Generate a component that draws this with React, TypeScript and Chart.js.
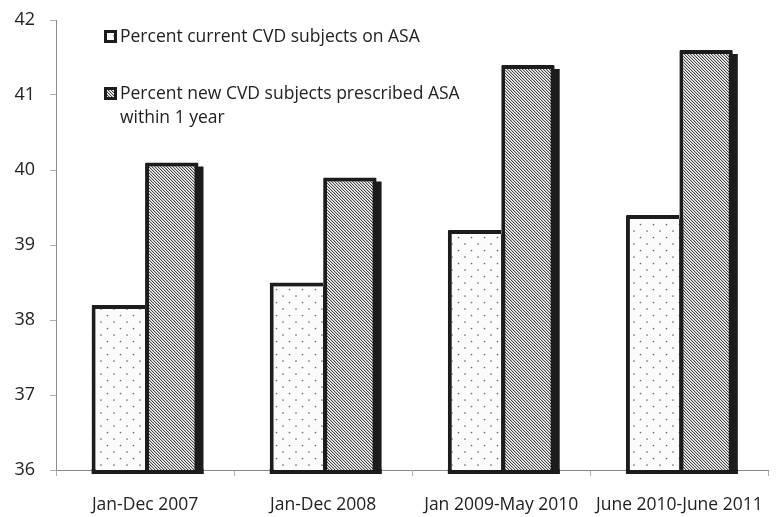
import React, { useEffect, useRef } from "react";
import { Chart, registerables } from "chart.js";

Chart.register(...registerables);

const categories = ["Jan-Dec 2007", "Jan-Dec 2008", "Jan 2009-May 2010", "June 2010-June 2011"];
const currentOnASA = [38.2, 38.5, 39.2, 39.4];
const newPrescribedASA = [40.1, 39.9, 41.4, 41.6];
const legendLabels = [
  ["Percent current CVD subjects on ASA"],
  ["Percent new CVD subjects prescribed ASA", "within 1 year"],
];
const yMin = 36;
const yMax = 42;

const FONT = "'Open Sans', 'Liberation Sans', sans-serif";
const TEXT_COLOR = "#222";
const BORDER_DARK = "#1c1c1c";

function makeDotPattern(ctx: CanvasRenderingContext2D) {
  const c = document.createElement("canvas");
  c.width = 13;
  c.height = 13;
  const g = c.getContext("2d")!;
  g.fillStyle = "#fbfbfb";
  g.fillRect(0, 0, 13, 13);
  g.fillStyle = "#6a6a6a";
  g.beginPath();
  g.arc(3.5, 3.5, 0.85, 0, Math.PI * 2);
  g.arc(10, 10, 0.85, 0, Math.PI * 2);
  g.fill();
  return ctx.createPattern(c, "repeat")!;
}

function makeHatchPattern(ctx: CanvasRenderingContext2D) {
  const n = 3;
  const c = document.createElement("canvas");
  c.width = n;
  c.height = n;
  const g = c.getContext("2d")!;
  const img = g.createImageData(n, n);
  for (let y = 0; y < n; y++) {
    for (let x = 0; x < n; x++) {
      const m = (((x - y) % n) + n) % n;
      const v = m === 0 ? 70 : m === 1 ? 195 : 252;
      const i = (y * n + x) * 4;
      img.data[i] = v;
      img.data[i + 1] = v;
      img.data[i + 2] = v;
      img.data[i + 3] = 255;
    }
  }
  g.putImageData(img, 0, 0);
  return ctx.createPattern(c, "repeat")!;
}

const SHADOW_DX = 5;
const SHADOW_DY = 4;

const shadowPlugin = {
  id: "barShadow",
  beforeDatasetsDraw(chart: any) {
    const ctx = chart.ctx;
    const bottom = chart.chartArea.bottom;
    ctx.save();
    ctx.fillStyle = BORDER_DARK;
    chart.data.datasets.forEach((_ds: any, i: number) => {
      const meta = chart.getDatasetMeta(i);
      meta.data.forEach((bar: any) => {
        const { x, y, width } = bar.getProps(["x", "y", "width"], true);
        const h = bottom - y;
        ctx.fillRect(x - width / 2 + SHADOW_DX, y + SHADOW_DY, width, h);
        ctx.fillRect(x - width / 2, bottom - 1, width + SHADOW_DX, SHADOW_DY + 1);
      });
    });
    ctx.restore();
  },
};

const legendPlugin = {
  id: "insideLegend",
  afterDraw(chart: any) {
    const ctx = chart.ctx;
    const patterns = chart.data.datasets.map((d: any) => d.backgroundColor);
    const boxX = 104;
    const rows = [30, 87];
    ctx.save();
    legendLabels.forEach((lines, i) => {
      const by = rows[i];
      ctx.fillStyle = patterns[i];
      ctx.fillRect(boxX, by, 13, 13);
      ctx.lineWidth = 3;
      ctx.strokeStyle = BORDER_DARK;
      ctx.strokeRect(boxX + 1.5, by + 1.5, 10, 10);
      ctx.fillStyle = TEXT_COLOR;
      ctx.font = `17.5px ${FONT}`;
      ctx.textBaseline = "middle";
      ctx.textAlign = "left";
      lines.forEach((t, j) => {
        ctx.fillText(t, boxX + 16, by + 7 + j * 24);
      });
    });
    ctx.restore();
  },
};

export default function App() {
  const ref = useRef<HTMLCanvasElement | null>(null);

  useEffect(() => {
    const canvas = ref.current!;
    const ctx = canvas.getContext("2d")!;
    const dots = makeDotPattern(ctx);
    const hatch = makeHatchPattern(ctx);

    const chart = new Chart(canvas, {
      type: "bar",
      data: {
        labels: categories,
        datasets: [
          {
            label: legendLabels[0].join(" "),
            data: currentOnASA,
            backgroundColor: dots as any,
            borderColor: BORDER_DARK,
            borderWidth: 4,
            borderSkipped: "right",
            borderRadius: 1,
            categoryPercentage: 0.6,
            barPercentage: 1.0,
          },
          {
            label: legendLabels[1].join(" "),
            data: newPrescribedASA,
            backgroundColor: hatch as any,
            borderColor: BORDER_DARK,
            borderWidth: 4,
            borderSkipped: false,
            borderRadius: 1,
            categoryPercentage: 0.6,
            barPercentage: 1.0,
          },
        ],
      },
      options: {
        responsive: false,
        animation: false,
        devicePixelRatio: 1,
        layout: { padding: { top: 20, right: 2, left: 0, bottom: 0 } },
        plugins: {
          legend: { display: false },
          tooltip: { enabled: false },
        },
        scales: {
          x: {
            grid: {
              display: true,
              drawOnChartArea: false,
              drawTicks: true,
              tickLength: 6,
              color: "#b0b0b0",
              offset: true,
            },
            border: { display: true, color: "#8a8a8a", width: 1 },
            ticks: {
              color: TEXT_COLOR,
              font: { family: FONT, size: 17.5 },
              padding: 19,
              maxRotation: 0,
              autoSkip: false,
            },
            afterFit(scale: any) {
              scale.height = 47;
            },
          },
          y: {
            min: yMin,
            max: yMax,
            grid: {
              display: true,
              drawOnChartArea: false,
              drawTicks: true,
              tickLength: 6,
              color: "#b0b0b0",
            },
            border: { display: true, color: "#8a8a8a", width: 1 },
            ticks: {
              stepSize: 1,
              color: TEXT_COLOR,
              font: { family: FONT, size: 18 },
              padding: 15,
            },
            afterFit(scale: any) {
              scale.width = 56;
              scale.paddingTop = 0;
              scale.paddingBottom = 0;
            },
          },
        },
      },
      plugins: [shadowPlugin, legendPlugin],
    });

    return () => chart.destroy();
  }, []);

  return (
    <div style={{ position: "absolute", left: 0, top: 0, width: 782, height: 517, background: "#fff" }}>
      <canvas ref={ref} width={782} height={517} style={{ display: "block", width: 782, height: 517 }} />
    </div>
  );
}
